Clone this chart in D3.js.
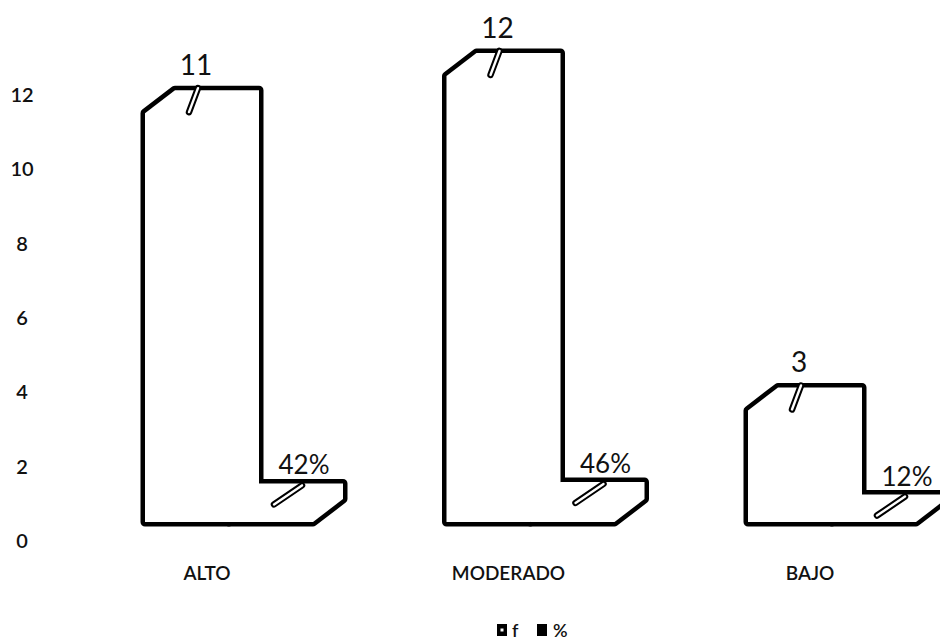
<!DOCTYPE html>
<html>
<head>
<meta charset="utf-8">
<script src="https://cdn.jsdelivr.net/npm/d3@7"></script>
<style>
  html, body { margin: 0; padding: 0; background: #fff; }
  svg text { font-family: Lato, "Open Sans", sans-serif; fill: #111; }
</style>
</head>
<body>
<svg id="chart" width="940" height="642"></svg>
<script>
// Data
const categories = ["ALTO", "MODERADO", "BAJO"];
const seriesNames = ["f", "%"];
const fValues = [11, 12, 3];
const pctValues = [0.42, 0.46, 0.12];
const pctLabels = ["42%", "46%", "12%"];
const yTicks = [0, 2, 4, 6, 8, 10, 12];

const svg = d3.select("#chart");

// Scales (front face of the 3D boxes)
const x = d3.scaleBand()
  .domain(categories)
  .range([78.25, 982.75])
  .paddingInner(0.4428)
  .paddingOuter(0.2214);
const xs = d3.scaleBand().domain(seriesNames).range([0, x.bandwidth()]);
const y = d3.scaleLinear().domain([0, 12]).range([522, 522 - 12 * 37.17]);

// 3D depth offset of the back face
const DX = 30, DY = -23;

// Box silhouette: front-bottom-left, front-top-left, back-top-left,
// back-top-right, back-bottom-right, front-bottom-right
function boxPath(x0, w, v) {
  const y0 = y(0), y1 = y(v);
  return "M" + [
    [x0, y0], [x0, y1], [x0 + DX, y1 + DY],
    [x0 + w + DX, y1 + DY], [x0 + w + DX, y0 + DY], [x0 + w, y0]
  ].map(p => p.join(",")).join("L") + "Z";
}

const rows = categories.map((c, i) => ({
  cat: c,
  bars: [
    { s: "f", v: fValues[i], label: String(fValues[i]) },
    { s: "%", v: pctValues[i], label: pctLabels[i] }
  ]
}));

const allBars = rows.flatMap(r => r.bars.map(b => ({ ...b, cat: r.cat })));

const g = svg.append("g");

// Outline pass (thick), then white fill pass: leaves only the outer silhouette
g.selectAll("path.outline")
  .data(allBars)
  .join("path")
  .attr("class", "outline")
  .attr("d", d => boxPath(x(d.cat) + xs(d.s), xs.bandwidth(), d.v))
  .attr("fill", "none")
  .attr("stroke", "#000")
  .attr("stroke-width", 9)
  .attr("stroke-linejoin", "round");

g.selectAll("path.fill")
  .data(allBars)
  .join("path")
  .attr("class", "fill")
  .attr("d", d => boxPath(x(d.cat) + xs(d.s), xs.bandwidth(), d.v))
  .attr("fill", "#fff")
  .attr("stroke", "none");

// Data labels with short leader strokes
const labelOffset = { "f": 51, "%": 75 };
const labelLift = { "f": 15, "%": 9 };
const leader = { "f": [[2, -2], [-7, 22]], "%": [[-2, 2], [-30, 21]] };

allBars.forEach(d => {
  const lx = x(d.cat) + xs(d.s) + labelOffset[d.s];
  const bt = y(d.v) + DY;
  const pts = leader[d.s].map(p => [lx + p[0], bt + p[1]]);
  const line = d3.line()(pts);
  g.append("path").attr("d", line).attr("stroke", "#000")
    .attr("stroke-width", 6.5).attr("stroke-linecap", "round").attr("fill", "none");
  g.append("path").attr("d", line).attr("stroke", "#fff")
    .attr("stroke-width", 2.4).attr("stroke-linecap", "round").attr("fill", "none");
  g.append("text")
    .attr("x", lx)
    .attr("y", bt - labelLift[d.s])
    .attr("text-anchor", "middle")
    .attr("font-size", d.s === "f" ? 28 : 26)
    .text(d.label);
});

// Value axis labels (no axis line)
svg.append("g").selectAll("text")
  .data(yTicks)
  .join("text")
  .attr("x", 22)
  .attr("y", v => y(v) + 19)
  .attr("dy", "0.35em")
  .attr("text-anchor", "middle")
  .attr("font-size", 20)
  .attr("font-weight", 600)
  .text(v => v);

// Category labels
svg.append("g").selectAll("text")
  .data(categories)
  .join("text")
  .attr("x", c => x(c) + x.bandwidth() / 2 - 22)
  .attr("y", 580)
  .attr("text-anchor", "middle")
  .attr("font-size", 19)
  .attr("font-weight", 600)
  .text(c => c);

// Legend
const legend = svg.append("g").attr("transform", "translate(497,624)");
legend.append("rect").attr("x", 0).attr("y", 0).attr("width", 10).attr("height", 12).attr("fill", "#000");
legend.append("rect").attr("x", 3.5).attr("y", 4.5).attr("width", 3).attr("height", 3).attr("fill", "#fff");
legend.append("text").attr("x", 15).attr("y", 13).attr("font-size", 18).attr("font-weight", 600).text("f");
legend.append("rect").attr("x", 40).attr("y", 0).attr("width", 10).attr("height", 12).attr("fill", "#000");
legend.append("text").attr("x", 56).attr("y", 13).attr("font-size", 18).attr("font-weight", 600).text("%");
</script>
</body>
</html>
